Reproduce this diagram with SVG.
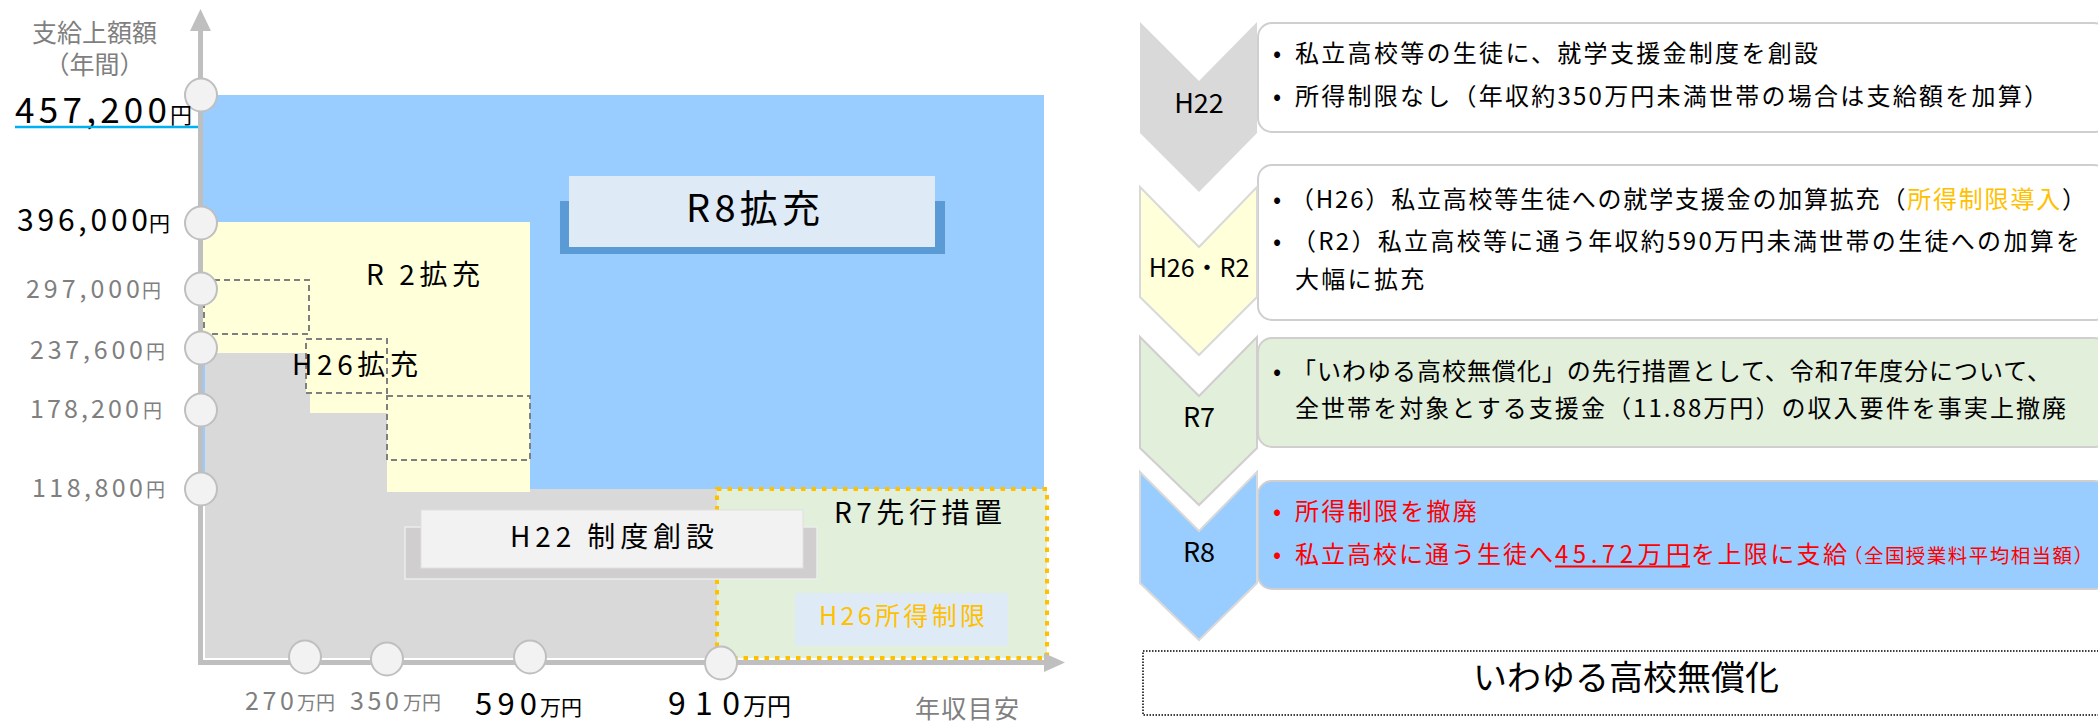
<svg xmlns="http://www.w3.org/2000/svg" width="2098" height="723" viewBox="0 0 2098 723">
<style>
text{font-family:'Noto Sans CJK JP','Noto Sans CJK SC',sans-serif;fill:#000}
.g{fill:#7f7f7f}
.c{fill:#f2f2f2;stroke:#bfbfbf;stroke-width:2}
.d{fill:#ffffd9;stroke:#7f7f7f;stroke-width:2;stroke-dasharray:6 4}
.bx{stroke:#d0cece;stroke-width:2}
.ch{stroke:#d9d9d9;stroke-width:2}
.b{font-size:24px}
.r{fill:#ff0000}
.o{fill:#ffc000}
.ax{stroke:#bfbfbf;stroke-width:5}
</style>
<rect width="2098" height="723" fill="#fff"/>

<!-- chart regions -->
<g id="region-r8"><rect x="203" y="95" width="841" height="394" fill="#99ccff"/></g>
<g id="region-h22"><path d="M205,353H310V413H387V492H530V489H717V658H205Z" fill="#d9d9d9"/></g>
<g id="region-r2">
<path d="M203,222H530V492H387V413H310V353H203Z" fill="#ffffd9"/>
<rect class="d" x="204" y="280" width="105" height="54"/>
<rect class="d" x="306" y="339" width="81" height="54"/>
<rect class="d" x="387" y="396" width="143" height="64"/>
<text x="366" y="285" font-size="28" textLength="114">R 2拡充</text>
<text x="292" y="375" font-size="28" textLength="126">H26拡充</text>
</g>
<g id="region-r7">
<rect x="717" y="489" width="330" height="169" fill="#e2efda" stroke="#ffc000" stroke-width="4" stroke-dasharray="4.5 6"/>
<text x="834" y="523" font-size="28" textLength="168">R7先行措置</text>
</g>
<g id="label-r8">
<rect x="560" y="201" width="385" height="53" fill="#5b9bd5"/>
<rect x="569" y="176" width="366" height="71" fill="#deebf7"/>
<text x="686" y="222" font-size="38" textLength="134">R8拡充</text>
</g>
<g id="label-h22">
<rect x="405" y="527" width="412" height="52" fill="#d0cece" stroke="#ededed" stroke-width="1.5"/>
<rect x="421" y="510" width="382" height="58" fill="#f2f2f2" stroke="#e0e0e0" stroke-width="1"/>
<text x="510" y="547" font-size="28" textLength="204">H22 制度創設</text>
</g>
<g id="label-h26limit">
<rect x="795" y="593" width="213" height="53" fill="#deebf7"/>
<text x="819" y="625" font-size="25" textLength="166" class="o">H26所得制限</text>
</g>

<!-- axes -->
<g id="axes">
<line class="ax" x1="200.5" y1="28" x2="200.5" y2="665"/>
<line class="ax" x1="198" y1="662.5" x2="1046" y2="662.5"/>
<polygon points="200.5,9 190,31 211,31" fill="#bfbfbf"/>
<polygon points="1065,662.5 1044,653 1044,672" fill="#bfbfbf"/>
<ellipse class="c" cx="201" cy="95" rx="16" ry="16.5"/>
<ellipse class="c" cx="201" cy="223" rx="16" ry="16.5"/>
<ellipse class="c" cx="201" cy="289" rx="16" ry="16.5"/>
<ellipse class="c" cx="201" cy="348" rx="16" ry="16.5"/>
<ellipse class="c" cx="201" cy="410" rx="16" ry="16.5"/>
<ellipse class="c" cx="201" cy="489" rx="16" ry="16.5"/>
<ellipse class="c" cx="305" cy="657" rx="16" ry="16.5"/>
<ellipse class="c" cx="387" cy="659" rx="16" ry="16.5"/>
<ellipse class="c" cx="530" cy="657" rx="16" ry="16.5"/>
<ellipse class="c" cx="721" cy="663" rx="16" ry="16.5"/>
</g>

<!-- axis labels -->
<g id="y-labels">
<text x="94.5" y="42" font-size="25" text-anchor="middle" class="g">支給上額額</text>
<text x="94.5" y="74" font-size="25" text-anchor="middle" class="g">（年間）</text>
<text x="15" y="123" font-size="35" textLength="152">457,200</text>
<text x="170" y="123" font-size="22">円</text>
<line x1="15" y1="127" x2="198" y2="127" stroke="#00b0f0" stroke-width="2.5"/>
<text x="17" y="231" font-size="30" textLength="131">396,000</text>
<text x="149" y="231" font-size="21">円</text>
<text x="26" y="298" font-size="25" textLength="114" class="g">297,000</text>
<text x="142" y="298" font-size="19" class="g">円</text>
<text x="30" y="359" font-size="25" textLength="113" class="g">237,600</text>
<text x="146" y="359" font-size="19" class="g">円</text>
<text x="30" y="418" font-size="25" textLength="109" class="g">178,200</text>
<text x="143" y="418" font-size="19" class="g">円</text>
<text x="32" y="497" font-size="25" textLength="111" class="g">118,800</text>
<text x="146" y="497" font-size="19" class="g">円</text>
</g>
<g id="x-labels">
<text x="245" y="710" font-size="25" textLength="49" class="g">270</text>
<text x="297" y="710" font-size="19" class="g">万円</text>
<text x="350" y="710" font-size="25" textLength="49" class="g">350</text>
<text x="403" y="710" font-size="19" class="g">万円</text>
<text x="475" y="715" font-size="31" textLength="62">590</text>
<text x="540" y="715" font-size="21">万円</text>
<text x="668" y="715" font-size="32" textLength="72">910</text>
<text x="743" y="715" font-size="24">万円</text>
<text x="915" y="718" font-size="25" textLength="104" class="g">年収目安</text>
</g>

<!-- right side: timeline -->
<g id="step-h22">
<rect x="1258" y="23" width="850" height="109" rx="14" fill="#fff" class="bx"/>
<polygon points="1140,22 1199,81 1257,22 1257,133 1199,192 1140,133" fill="#d9d9d9"/>
<text x="1199" y="113" font-size="27" text-anchor="middle">H22</text>
<text x="1277" y="62" class="b" text-anchor="middle">•</text>
<text x="1295" y="62" class="b" textLength="523">私立高校等の生徒に、就学支援金制度を創設</text>
<text x="1277" y="105" class="b" text-anchor="middle">•</text>
<text x="1295" y="105" class="b" textLength="753">所得制限なし（年収約350万円未満世帯の場合は支給額を加算）</text>
</g>
<g id="step-h26r2">
<rect x="1258" y="165" width="850" height="155" rx="14" fill="#fff" class="bx"/>
<polygon class="ch" points="1140,187 1199,247 1257,187 1257,297 1199,355 1140,297" fill="#ffffd9"/>
<text x="1199" y="277" font-size="25" text-anchor="middle">H26・R2</text>
<text x="1277" y="208" class="b" text-anchor="middle">•</text>
<text x="1290" y="208" class="b" textLength="796">（H26）私立高校等生徒への就学支援金の加算拡充（<tspan class="o">所得制限導入</tspan>）</text>
<text x="1277" y="250" class="b" text-anchor="middle">•</text>
<text x="1292" y="250" class="b" textLength="788">（R2）私立高校等に通う年収約590万円未満世帯の生徒への加算を</text>
<text x="1295" y="288" class="b" letter-spacing="2.3">大幅に拡充</text>
</g>
<g id="step-r7">
<rect x="1258" y="338" width="850" height="109" rx="14" fill="#e2efda" class="bx"/>
<polygon class="bx" points="1140,337 1199,396 1257,337 1257,448 1199,505 1140,448" fill="#e2efda"/>
<text x="1199" y="427" font-size="27" text-anchor="middle">R7</text>
<text x="1277" y="380" class="b" text-anchor="middle">•</text>
<text x="1292" y="380" class="b" textLength="759">「いわゆる高校無償化」の先行措置として、令和7年度分について、</text>
<text x="1295" y="417" class="b" textLength="771">全世帯を対象とする支援金（11.88万円）の収入要件を事実上撤廃</text>
</g>
<g id="step-r8">
<rect x="1258" y="481" width="850" height="108" rx="14" fill="#99ccff" class="bx"/>
<polygon class="ch" points="1140,472 1199,531 1257,472 1257,583 1199,640 1140,583" fill="#99ccff"/>
<text x="1199" y="562" font-size="27" text-anchor="middle">R8</text>
<text x="1277" y="520" class="b r" text-anchor="middle">•</text>
<text x="1295" y="520" class="b r" letter-spacing="2.3">所得制限を撤廃</text>
<text x="1277" y="563" class="b r" text-anchor="middle">•</text>
<text x="1295" y="563" class="b r" textLength="258">私立高校に通う生徒へ</text>
<text x="1555" y="563" class="b r" textLength="135">45.72万円</text>
<line x1="1555" y1="566.5" x2="1690" y2="566.5" stroke="#ff0000" stroke-width="2"/>
<text x="1691" y="563" class="b r" textLength="156">を上限に支給</text>
<text x="1843" y="563" font-size="19.5" class="r" textLength="250">（全国授業料平均相当額）</text>
</g>
<g id="summary">
<rect x="1143" y="651" width="965" height="64" fill="#fff" stroke="#000" stroke-width="1.5" stroke-dasharray="1.5 1.5"/>
<text x="1626" y="690" font-size="34" text-anchor="middle">いわゆる高校無償化</text>
</g>
<g id="connectors"/>
</svg>
